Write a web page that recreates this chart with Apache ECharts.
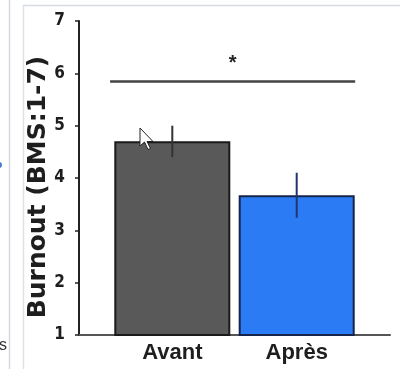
<!DOCTYPE html>
<html lang="fr">
<head>
<meta charset="UTF-8">
<title>Burnout avant / après</title>
<script src="https://cdn.jsdelivr.net/npm/echarts@6/dist/echarts.min.js"></script>
<style>
    html, body { margin: 0; padding: 0; background: #fff; }
    #chart { width: 400px; height: 369px; }
</style>
</head>
<body>
<div id="chart"></div>
<script>
    // données
    const categories = ['Avant', 'Après'];
    const means = [4.7, 3.67];
    const errors = [0.3, 0.43];
    const yTicks = [1, 2, 3, 4, 5, 6, 7];
    const sigLevel = 5.84;   // hauteur du trait de significativité
    const sigLabel = '*';

    const barColors = ['#595959', '#2b7cf4'];
    const barBorders = ['#1a1a1a', '#14244a'];
    const errColors = ['#333333', '#1d3570'];

    const chart = echarts.init(document.getElementById('chart'));
    const narrow = '"Liberation Sans Narrow", "DejaVu Sans Condensed", Arial, sans-serif';

    const option = {
        animation: false,
        backgroundColor: '#ffffff',
        grid: { left: 79, right: 10, top: 21, bottom: 34 },
        xAxis: {
            type: 'value',
            min: -0.75,
            max: 1.75,
            splitLine: { show: false },
            axisLine: { show: true, onZero: false, lineStyle: { color: '#555', width: 2 } },
            axisTick: { show: false },
            axisLabel: {
                customValues: categories.map((c, i) => i),
                formatter: v => categories[Math.round(v)] || '',
                fontFamily: '"Liberation Sans", Arial, sans-serif',
                fontWeight: 'bold',
                fontSize: 22,
                color: '#1e1e1e',
                margin: 7
            }
        },
        yAxis: {
            type: 'value',
            min: yTicks[0],
            max: yTicks[yTicks.length - 1],
            interval: 1,
            name: 'Burnout (BMS:1-7)',
            nameLocation: 'middle',
            nameRotate: 90,
            nameGap: 28,
            nameMoveOverlap: false,
            nameTextStyle: {
                fontFamily: '"DejaVu Sans", sans-serif',
                fontWeight: 'bold',
                fontSize: 25,
                color: '#1e1e1e',
                padding: [0, 18, 0, 0]
            },
            splitLine: { show: false },
            axisLine: { show: true, onZero: false, lineStyle: { color: '#222', width: 2 } },
            axisTick: { show: true, length: 4, lineStyle: { color: '#222', width: 1.5 } },
            axisLabel: {
                fontFamily: narrow,
                fontWeight: 'bold',
                fontSize: 17,
                color: '#1e1e1e',
                margin: 14
            }
        },
        series: [
            {
                type: 'bar',
                barWidth: 116,
                data: means.map((m, i) => ({
                    value: [i, m],
                    itemStyle: { color: barColors[i], borderColor: barBorders[i], borderWidth: 2 }
                })),
                markLine: {
                    silent: true,
                    symbol: 'none',
                    lineStyle: { color: '#444', width: 2.5, type: 'solid' },
                    label: {
                        show: true,
                        position: 'middle',
                        formatter: sigLabel,
                        fontSize: 20,
                        fontWeight: 'bold',
                        color: '#222',
                        distance: 8
                    },
                    data: [[{ coord: [-0.5, sigLevel] }, { coord: [1.47, sigLevel] }]]
                }
            },
            {
                type: 'custom',
                data: means.map((m, i) => [i, m - errors[i], m + errors[i]]),
                renderItem: function (params, api) {
                    const lo = api.coord([api.value(0), api.value(1)]);
                    const hi = api.coord([api.value(0), api.value(2)]);
                    return {
                        type: 'line',
                        shape: { x1: lo[0], y1: lo[1], x2: hi[0], y2: hi[1] },
                        style: { stroke: errColors[params.dataIndex], lineWidth: 2 }
                    };
                },
                z: 3
            }
        ],
        graphic: [
            { type: 'line', shape: { x1: 9.5, y1: 0, x2: 9.5, y2: 369 }, style: { stroke: '#d3d9e3', lineWidth: 1.5 } },
            { type: 'line', shape: { x1: 23.5, y1: 5, x2: 23.5, y2: 369 }, style: { stroke: '#dce1e9', lineWidth: 1.5 } },
            { type: 'line', shape: { x1: 23, y1: 5.5, x2: 400, y2: 5.5 }, style: { stroke: '#d6dbe4', lineWidth: 1.5 } },
            { type: 'text', left: -1, top: 338, style: { text: 's', font: '16px "Liberation Sans", sans-serif', fill: '#333' } },
            { type: 'circle', shape: { cx: -1, cy: 165, r: 3 }, style: { fill: '#4a78d0' } },
            {
                type: 'polygon', z: 100,
                shape: { points: [[140, 128], [140, 146], [144.5, 142], [148, 149.5], [150.5, 148.5], [147, 141.5], [153, 141.5]] },
                style: { fill: '#ffffff', stroke: '#222', lineWidth: 1 }
            }
        ]
    };

    chart.setOption(option);
</script>
</body>
</html>
